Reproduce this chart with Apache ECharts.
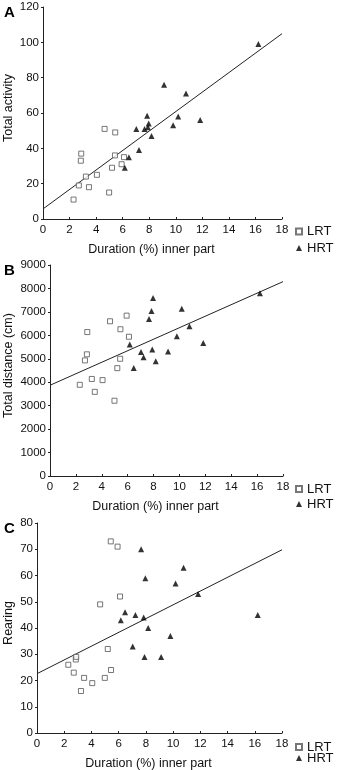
<!DOCTYPE html>
<html>
<head>
<meta charset="utf-8">
<script src="https://cdn.jsdelivr.net/npm/echarts@6/dist/echarts.min.js"></script>
<style>
  html, body { margin: 0; padding: 0; background: #fff; }
  #chart { width: 340px; height: 770px; }
</style>
</head>
<body>
<div id="chart"></div>
<script>
// duration (%) in inner part, one value per animal
const durationLRT = [2.3, 2.7, 2.85, 2.88, 3.23, 3.46, 4.06, 4.64, 4.98, 5.2, 5.42, 5.44, 5.92, 6.1];
const durationHRT = [6.16, 6.47, 7.03, 7.23, 7.65, 7.84, 7.9, 7.96, 8.17, 9.12, 9.8, 10.18, 10.77, 11.84, 16.22];

// A - total activity
const activityLRT = [11, 19, 33, 37, 24, 18, 25, 51, 15, 29, 36, 49, 31, 35];
const activityHRT = [29, 35, 51, 39, 51, 58.5, 52, 54, 47, 76, 53, 58, 71, 56, 99];
// B - total distance (cm)
const distanceLRT = [3890, 4930, 5190, 6140, 4140, 3590, 4090, 6600, 3210, 4600, 5000, 6260, 6840, 5940];
const distanceHRT = [5610, 4610, 5290, 5060, 6700, 7040, 5400, 7590, 4890, 5310, 5960, 7130, 6390, 5670, 7790];
// C - rearing
const rearingLRT = [26, 23, 28, 29, 16, 21, 19, 49, 21, 32, 73, 24, 71, 52];
const rearingHRT = [43, 46, 33, 45, 70, 44, 29, 59, 40, 29, 37, 57, 63, 53, 45];

// fitted lines, read at x = 0 and x = 18
const fitX = [0, 18];
const fitActivity = [5.7, 104.9];
const fitDistance = [3870, 8290];
const fitRearing = [22.6, 69.8];

const groups = ['LRT', 'HRT'];
const panelLetters = ['A', 'B', 'C'];
const yNames = ['Total activity', 'Total distance (cm)', 'Rearing'];
const yMax = [120, 9000, 80];
const yStep = [20, 1000, 10];

const FONT = "'Liberation Sans', Arial, sans-serif";
const zip = (xs, ys) => xs.map((x, i) => [x, ys[i]]);

// panel boxes (no auto fitting, placed as in the figure)
const grids = [
  { left: 43, top: 7, width: 239, height: 212, outerBoundsMode: 'none', containLabel: false },
  { left: 50, top: 265, width: 233, height: 211, outerBoundsMode: 'none', containLabel: false },
  { left: 37, top: 523, width: 245, height: 210, outerBoundsMode: 'none', containLabel: false },
];
const yNameGap = [27.5, 34.5, 21.5];
const legendTops = [225, 482.5, 740.5];
const legendGaps = [3.5, 2, -2];

const panels = [
  [activityLRT, activityHRT, fitActivity],
  [distanceLRT, distanceHRT, fitDistance],
  [rearingLRT, rearingHRT, fitRearing],
];

const axisLine = { lineStyle: { color: '#222', width: 1 } };
const label = { color: '#111', fontSize: 11.5, fontFamily: FONT };

const xAxis = grids.map((g, i) => ({
  gridIndex: i,
  type: 'value',
  min: 0, max: 18, interval: 2,
  name: 'Duration (%) inner part',
  nameLocation: 'middle',
  nameGap: 24.5,
  nameMoveOverlap: false,
  nameTextStyle: { color: '#111', fontSize: 12.5, fontFamily: FONT, padding: [0, 22, 0, 0] },
  axisLine: axisLine,
  axisTick: { inside: true, length: 2, lineStyle: { color: '#222' } },
  axisLabel: Object.assign({ margin: 5 }, label),
  splitLine: { show: false },
}));

const yAxis = grids.map((g, i) => ({
  gridIndex: i,
  type: 'value',
  min: 0, max: yMax[i], interval: yStep[i],
  name: yNames[i],
  nameLocation: 'middle',
  nameGap: yNameGap[i],
  nameMoveOverlap: false,
  nameTextStyle: { color: '#111', fontSize: 12.5, fontFamily: FONT, padding: [0, 0, 0, 10] },
  axisLine: Object.assign({ show: true }, axisLine),
  axisTick: { show: true, length: 2, lineStyle: { color: '#222' } },
  axisLabel: Object.assign({ margin: 4, formatter: v => String(v) }, label),
  splitLine: { show: false },
}));

const series = [];
panels.forEach(([lrt, hrt, fit], i) => {
  series.push({
    name: 'LRT', type: 'scatter', xAxisIndex: i, yAxisIndex: i,
    symbol: 'rect', symbolSize: 5,
    itemStyle: { color: '#fff', borderColor: '#555', borderWidth: 1 },
    data: zip(durationLRT, lrt),
    z: 3,
  });
  series.push({
    name: 'HRT', type: 'scatter', xAxisIndex: i, yAxisIndex: i,
    symbol: 'triangle', symbolSize: 6,
    itemStyle: { color: '#000' },
    data: zip(durationHRT, hrt),
    z: 4,
  });
  series.push({
    name: 'fit', type: 'line', xAxisIndex: i, yAxisIndex: i,
    showSymbol: false, silent: true,
    lineStyle: { color: '#222', width: 1 },
    data: zip(fitX, fit),
    z: 2,
  });
});

const legend = legendTops.map((t, i) => ({
  data: groups,
  orient: 'vertical',
  left: 295,
  top: t,
  height: 40,
  padding: 0,
  itemWidth: 6,
  itemHeight: 6,
  itemGap: legendGaps[i],
  textStyle: { color: '#111', fontSize: 13, lineHeight: 13, fontFamily: FONT },
}));

const letters = panelLetters.map((l, i) => ({
  type: 'text',
  left: 4,
  top: grids[i].top - 2,
  style: { text: l, font: 'bold 15px ' + FONT, fill: '#000' },
}));

const option = {
  animation: false,
  backgroundColor: '#fff',
  grid: grids,
  xAxis: xAxis,
  yAxis: yAxis,
  legend: legend,
  series: series,
  graphic: letters,
};

const myChart = echarts.init(document.getElementById('chart'));
myChart.setOption(option);
</script>
</body>
</html>
